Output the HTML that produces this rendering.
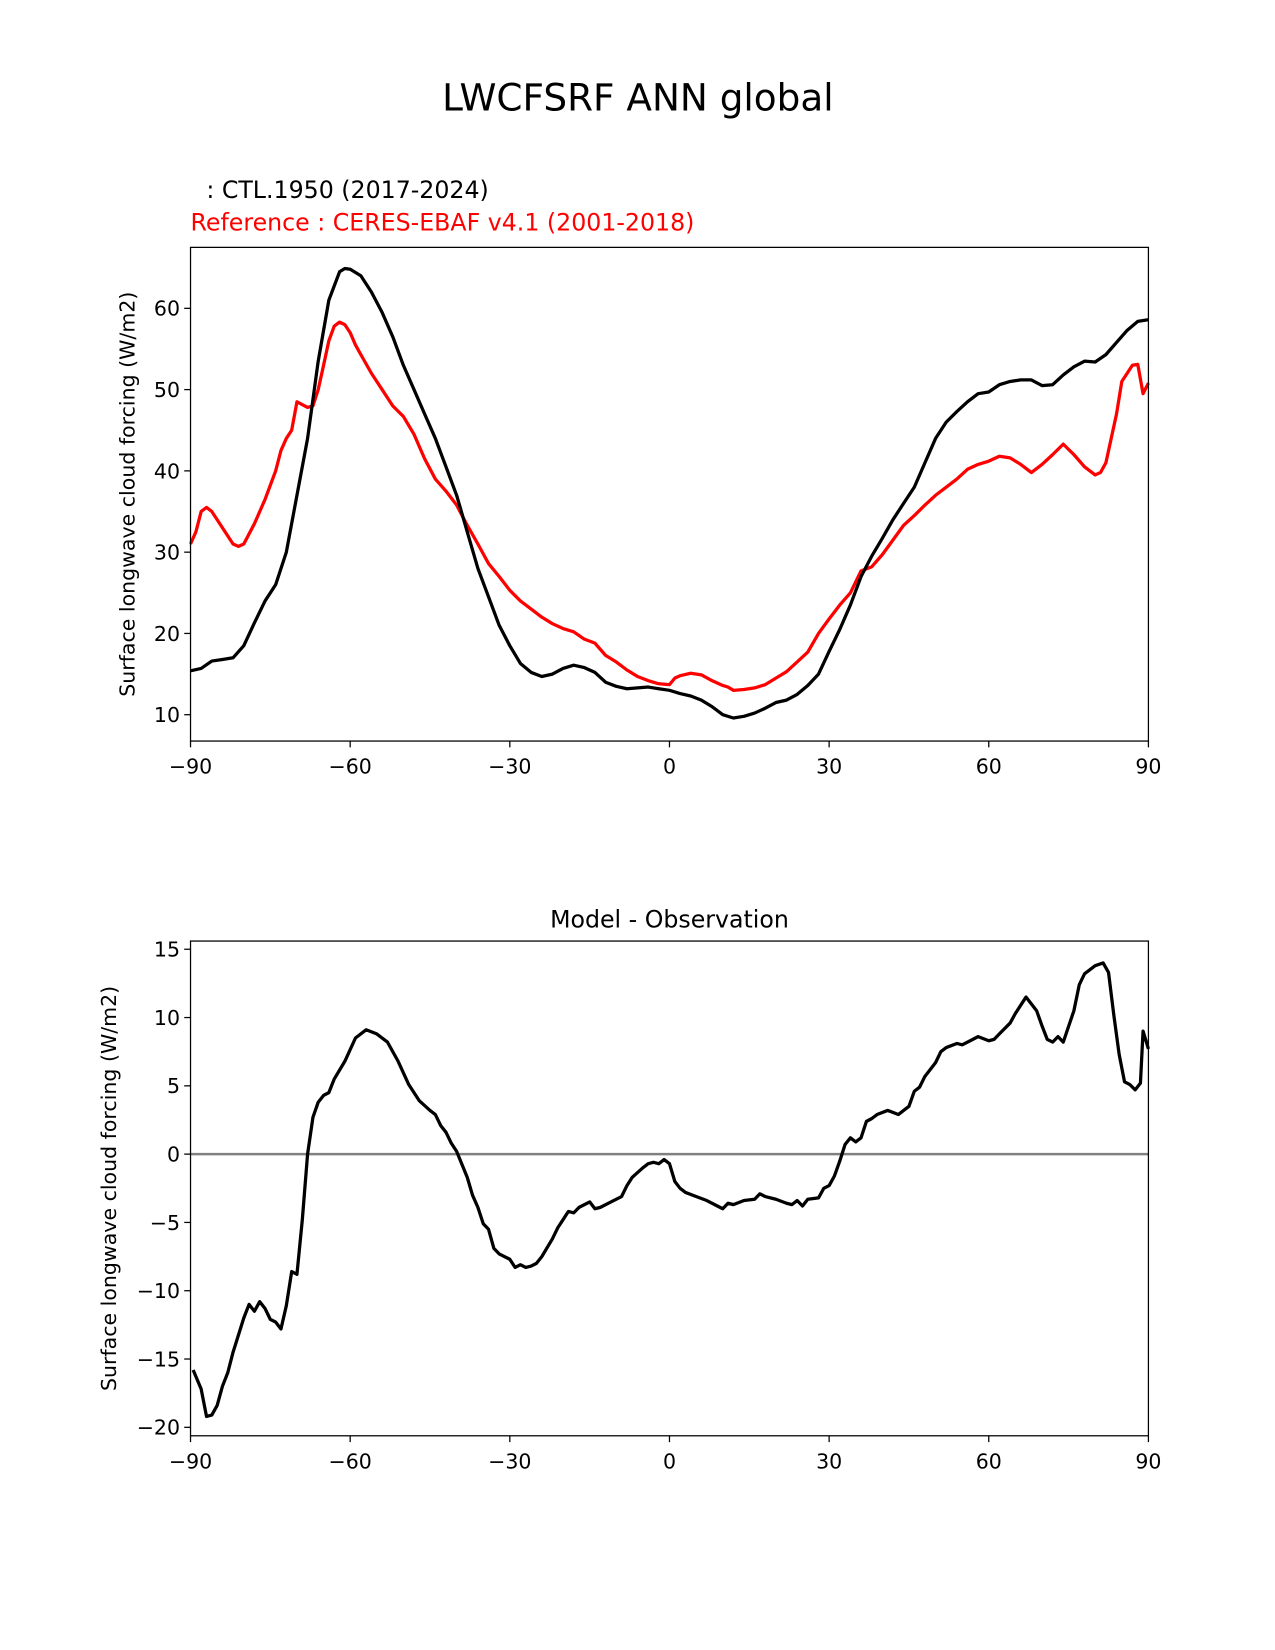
<!DOCTYPE html>
<html><head><meta charset="utf-8"><style>
body{margin:0;background:#fff}
svg{display:block;font-family:"DejaVu Sans","Liberation Sans",sans-serif}
</style></head><body>
<svg id="chart" width="1275" height="1650" viewBox="0 0 1211.25 1567.5" xmlns="http://www.w3.org/2000/svg">
<rect width="1211.25" height="1567.5" fill="#fff"/>
<text x="606" y="105" font-size="35.5" text-anchor="middle">LWCFSRF ANN global</text>
<text x="196" y="188" font-size="22.5">: CTL.1950 (2017-2024)</text>
<text x="181" y="219" font-size="22.5" fill="#ff0000">Reference : CERES-EBAF v4.1 (2001-2018)</text>
<text x="636" y="881" font-size="22.5" text-anchor="middle">Model - Observation</text>
<g id="top"></g>
<g id="bot"></g>
</svg>
<script>
const modelLat=[-90,-88,-86,-84,-82,-80,-78,-76,-74,-72,-70,-68,-66,-64,-62,-61,-60,-58,-56,-54,-52,-50,-48,-46,-44,-42,-40,-38,-36,-34,-32,-30,-28,-26,-24,-22,-20,-18,-16,-14,-12,-10,-8,-6,-4,-2,0,2,4,6,8,10,12,14,16,18,20,22,24,26,28,30,32,34,36,38,40,42,44,46,48,50,52,54,56,58,60,62,64,66,68,70,72,74,76,78,80,82,84,86,88,90];
const modelVals=[15.4,15.7,16.6,16.8,17.0,18.5,21.3,24,26,30,37,44,53.5,61,64.5,64.9,64.8,64.0,62,59.5,56.5,53,50,47,44,40.5,37,32.5,28,24.5,21,18.5,16.3,15.2,14.7,15.0,15.7,16.1,15.8,15.2,14.0,13.5,13.2,13.3,13.4,13.2,13.0,12.6,12.3,11.8,11.0,10.0,9.6,9.8,10.2,10.8,11.5,11.8,12.5,13.6,15,17.8,20.5,23.5,27,29.5,31.7,34,36,38,41,44,46,47.3,48.5,49.5,49.7,50.6,51,51.2,51.2,50.5,50.6,51.8,52.8,53.5,53.4,54.3,55.8,57.3,58.4,58.6];
const refLat=[-90,-89,-88,-87,-86,-84,-82,-81,-80,-78,-76,-74,-73,-72,-71,-70,-68,-67,-66,-65,-64,-63,-62,-61,-60,-59,-58,-56,-54,-52,-50,-48,-46,-44,-42,-40,-38,-36,-34,-32,-30,-28,-26,-24,-22,-20,-18,-16,-14,-12,-10,-8,-6,-4,-2,0,1,2,4,6,8,10,11,12,14,16,18,20,22,24,26,28,30,32,34,36,38,40,42,44,46,48,50,52,54,56,58,60,62,64,66,68,70,72,74,76,78,80,81,82,84,85,87,88,89,90];
const refVals=[31,32.5,35,35.5,35,33,31,30.7,31,33.5,36.5,40,42.5,44,45,48.5,47.8,48,50,53,56,57.8,58.3,58,57,55.5,54.3,52,50,48,46.7,44.5,41.5,39,37.5,35.8,33.3,31,28.6,27,25.3,24,23,22,21.2,20.6,20.2,19.3,18.8,17.3,16.5,15.5,14.7,14.2,13.8,13.7,14.5,14.8,15.1,14.9,14.2,13.6,13.4,13.0,13.1,13.3,13.7,14.5,15.3,16.5,17.7,20,21.8,23.5,25,27.7,28.2,29.7,31.5,33.3,34.5,35.8,37,38,39,40.2,40.8,41.2,41.8,41.6,40.8,39.8,40.8,42,43.3,42,40.5,39.5,39.8,41,47,51,53,53.1,49.5,50.8];
const diffLat=[-89.5,-88,-87,-86,-85,-84,-83,-82,-80,-79,-78,-77,-76,-75,-74,-73,-72,-71,-70,-69,-68,-67,-66,-65,-64,-63,-61,-59,-57,-55,-53,-51,-49,-47,-45,-44,-43,-42,-41,-40,-38,-37,-36,-35,-34,-33,-32,-30,-29,-28,-27,-26,-25,-24,-22,-21,-20,-19,-18,-17,-15,-14,-13,-11,-9,-8,-7,-5,-4,-3,-2,-1,0,1,2,3,5,7,9,10,11,12,14,16,17,18,20,22,23,24,25,26,28,29,30,31,32,33,34,35,36,37,38,39,41,43,45,46,47,48,50,51,52,54,55,57,58,60,61,62,64,65,67,69,70,71,72,73,74,76,77,78,80,81.5,82.5,83.5,84.5,85.5,86.5,87.5,88.5,89,90];
const diffVals=[-15.8,-17.2,-19.2,-19.1,-18.4,-17,-16,-14.5,-12,-11,-11.5,-10.8,-11.3,-12.1,-12.3,-12.8,-11.1,-8.6,-8.8,-4.8,0,2.7,3.8,4.3,4.5,5.5,6.8,8.5,9.1,8.8,8.2,6.8,5.1,3.9,3.2,2.9,2.1,1.6,0.8,0.2,-1.7,-3,-3.9,-5.1,-5.5,-6.9,-7.3,-7.7,-8.3,-8.1,-8.3,-8.2,-8.0,-7.5,-6.2,-5.4,-4.8,-4.2,-4.3,-3.9,-3.5,-4.0,-3.9,-3.5,-3.1,-2.3,-1.7,-1.0,-0.7,-0.6,-0.7,-0.4,-0.7,-2.0,-2.5,-2.8,-3.1,-3.4,-3.8,-4.0,-3.6,-3.7,-3.4,-3.3,-2.9,-3.1,-3.3,-3.6,-3.7,-3.4,-3.8,-3.3,-3.2,-2.5,-2.3,-1.6,-0.5,0.7,1.2,0.9,1.2,2.4,2.6,2.9,3.2,2.9,3.5,4.6,4.9,5.7,6.7,7.5,7.8,8.1,8.0,8.4,8.6,8.3,8.4,8.8,9.6,10.3,11.5,10.5,9.4,8.4,8.2,8.6,8.2,10.5,12.4,13.2,13.8,14.0,13.3,10.2,7.3,5.3,5.1,4.7,5.2,9.0,7.7];
const xTicks=[-90,-60,-30,0,30,60,90];
const xTickLabels=["\u221290","\u221260","\u221230","0","30","60","90"];
const topYTicks=[10,20,30,40,50,60];
const botYTicks=[-20,-15,-10,-5,0,5,10,15];

const NS="http://www.w3.org/2000/svg";
function mk(p,tag,at){const e=document.createElementNS(NS,tag);for(const k in at)e.setAttribute(k,at[k]);p.appendChild(e);return e;}
const X0=181,X1=1091;
const xs=v=>X0+(v+90)/180*(X1-X0);

function panel(g,yTop,yBot,vMin,vMax,yticks,ylab,series,zero){
  const ys=v=>yBot-(v-vMin)/(vMax-vMin)*(yBot-yTop);
  if(zero){const z=mk(g,'line',{x1:X0,x2:X1,y1:ys(0),y2:ys(0),stroke:'#808080','stroke-width':2.4});
    
    }
  series.forEach(s=>{
    const d=s.lat.map((l,i)=>(i?'L':'M')+xs(l).toFixed(1)+','+ys(s.vals[i]).toFixed(1)).join('');
    const p=mk(g,'path',{d:d,fill:'none',stroke:s.color,'stroke-width':3.1,'stroke-linejoin':'round'});
    
    
  });
  const f=mk(g,'rect',{x:X0,y:yTop,width:X1-X0,height:yBot-yTop,fill:'none',stroke:'#000','stroke-width':1.2});
  
  
  xTicks.forEach((t,i)=>{
    mk(g,'line',{x1:xs(t),x2:xs(t),y1:yBot,y2:yBot+6,stroke:'#000','stroke-width':1.2});
    const tx=mk(g,'text',{x:xs(t),y:yBot+31,'font-size':19.5,'text-anchor':'middle'});
    tx.textContent=xTickLabels[i];
    
    
  });
  yticks.forEach(t=>{
    mk(g,'line',{x1:X0-6,x2:X0,y1:ys(t),y2:ys(t),stroke:'#000','stroke-width':1.2});
    const tx=mk(g,'text',{x:X0-10,y:ys(t)+7,'font-size':19.5,'text-anchor':'end'});
    tx.textContent=t<0?'\u2212'+(-t):String(t);
    
    
  });
  const cy=(yTop+yBot)/2;
  const yl=mk(g,'text',{x:ylab,y:cy,'font-size':19.5,'text-anchor':'middle',transform:`rotate(-90 ${ylab} ${cy})`});
  yl.textContent='Surface longwave cloud forcing (W/m2)';
  
  
}
panel(document.getElementById('top'),235,704,6.76,67.5,topYTicks,128,
  [{lat:refLat,vals:refVals,color:'#ff0000',name:'reference-line'},{lat:modelLat,vals:modelVals,color:'#000',name:'model-line'}],false);
panel(document.getElementById('bot'),894,1364,-20.62,15.6,botYTicks,110,
  [{lat:diffLat,vals:diffVals,color:'#000',name:'difference-line'}],true);
</script>
</body></html>
